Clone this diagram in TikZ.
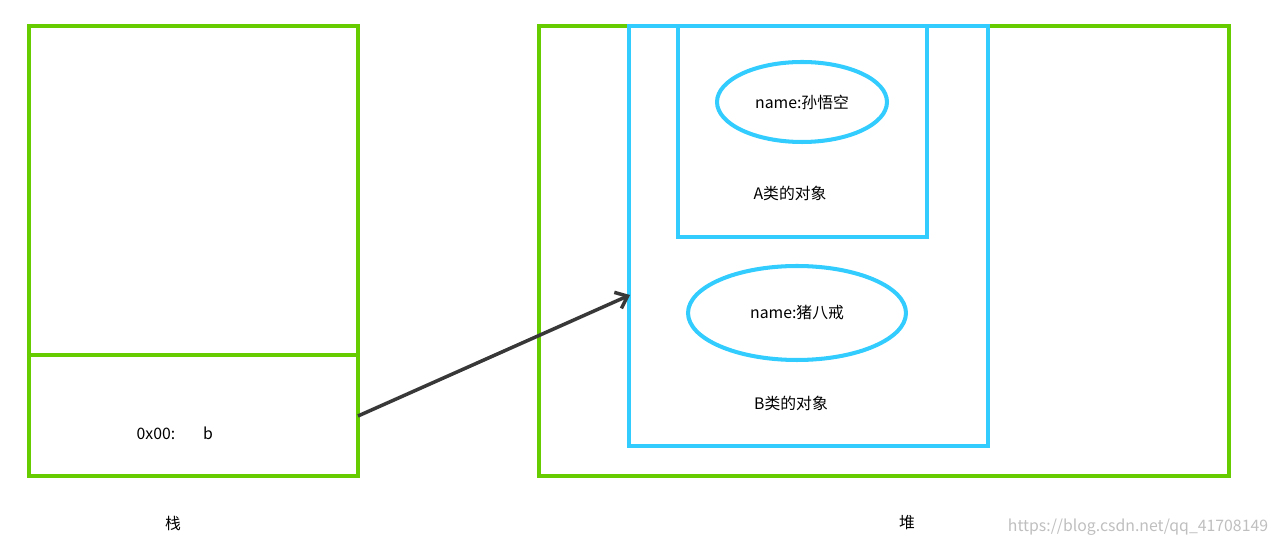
\documentclass[tikz,border=0pt]{standalone}
\usepackage{fontspec}
\setmainfont{Noto Sans CJK SC}
\usetikzlibrary{arrows.meta,shapes.geometric}
\definecolor{grn}{RGB}{102,204,0}
\definecolor{blu}{RGB}{51,204,255}
\tikzset{gbox/.style={draw=grn,line width=2.3pt},bbox/.style={draw=blu,line width=2.3pt},
lbl/.style={font=\fontsize{9}{10}\selectfont}}
\begin{document}
\begin{tikzpicture}[x=0.02cm,y=-0.02cm]
\useasboundingbox (0,0) rectangle (1271,546);
\draw[gbox] (29,26) rectangle (358,476);
\draw[gbox] (29,355) -- (358,355);
\draw[gbox] (539,26) rectangle (1229,476);
\draw[bbox] (629,26) rectangle (988,446);
\draw[bbox] (678,26) rectangle (927,237);
\node[bbox,ellipse,minimum width=3.4cm,minimum height=1.6cm,inner sep=0,lbl] (ea) at (802,102) {name:孙悟空};
\node[bbox,ellipse,minimum width=4.36cm,minimum height=1.88cm,inner sep=0,lbl] (eb) at (797,313) {name:猪八戒};
\node[lbl] (ta) at (790,193) {A类的对象};
\node[lbl] (tb) at (791,403) {B类的对象};
\node[lbl] (addr) at (156,434) {0x00:};
\node[lbl] (b) at (208,433) {b};
\node[lbl] (zhan) at (173,523) {栈};
\node[lbl] (dui) at (907,523) {堆};
\node[lbl,text=black!25] (wm) at (1138,527) {https://blog.csdn.net/qq\_41708149};
\coordinate (s) at (358,416);
\coordinate (t) at (630,295);
\draw[line width=2pt,draw=black!78,-{Straight Barb[length=6pt,width=10pt]}] (s) -- (t);
\end{tikzpicture}
\end{document}
